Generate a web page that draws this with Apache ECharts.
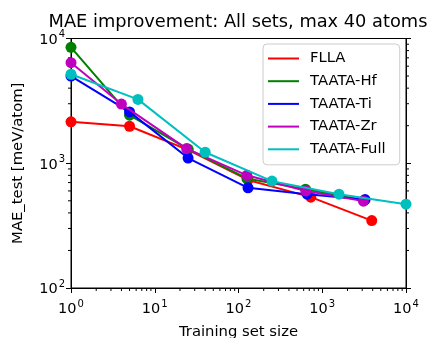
<!DOCTYPE html>
<html>
<head>
<meta charset="utf-8">
<script src="https://cdn.jsdelivr.net/npm/echarts@6/dist/echarts.min.js"></script>
<style>
  html, body { margin: 0; padding: 0; background: #fff; }
  #chart { width: 430px; height: 338px; }
</style>
</head>
<body>
<div id="chart"></div>
<script>
// Training set size vs. test MAE (meV/atom), one list of [size, mae] per model
const seriesNames = ['FLLA', 'TAATA-Hf', 'TAATA-Ti', 'TAATA-Zr', 'TAATA-Full'];
const flla      = [[1, 2150], [5, 1980], [25, 1280], [130, 735], [730, 535], [3900, 347]];
const taataHf   = [[1, 8500], [5, 2430], [25, 1300], [126, 755], [631, 620], [3162, 505]];
const taataTi   = [[1, 5000], [5, 2580], [25, 1100], [130, 635], [660, 565], [3250, 512]];
const taataZr   = [[1, 6400], [4, 2980], [24, 1310], [126, 800], [640, 600], [3100, 497]];
const taataFull = [[1, 5170], [6.3, 3250], [40, 1225], [251, 719], [1585, 565], [10000, 470]];
const seriesColors = ['#ff0000', '#008000', '#0000ff', '#bf00bf', '#00bfbf'];

// Axis ranges and decade ticks
const xRange = [1, 10000];
const yRange = [100, 10000];
const xDecades = [1, 10, 100, 1000];
const yDecades = [100, 1000];
const minorMultipliers = [2, 3, 4, 5, 6, 7, 8, 9];
const xMinorTicks = xDecades.flatMap(d => minorMultipliers.map(m => m * d));
const yMinorTicks = yDecades.flatMap(d => minorMultipliers.map(m => m * d));

const FONT = 'DejaVu Sans';
const TXT = '#000';

function powerLabel(v) {
  const e = Math.round(Math.log10(v));
  return '{b|10}{s|' + e + '}';
}
const labelRich = {
  b: { fontFamily: FONT, fontSize: 14.5, color: TXT, verticalAlign: 'bottom', lineHeight: 18 },
  s: { fontFamily: FONT, fontSize: 10, color: TXT, verticalAlign: 'top', lineHeight: 18, padding: [0, 0, 0, 1] }
};

const allData = [flla, taataHf, taataTi, taataZr, taataFull];

const lineSeries = allData.map((d, i) => ({
  name: seriesNames[i],
  type: 'line',
  data: d,
  symbol: 'circle',
  symbolSize: 11,
  color: seriesColors[i],
  lineStyle: { width: 2, color: seriesColors[i] },
  itemStyle: { color: seriesColors[i] },
  emphasis: { disabled: true },
  animation: false,
  z: 3 + i
}));

// Minor ticks on the log axes (2..9 within each decade)
const minorX = {
  type: 'custom',
  data: xMinorTicks.map(v => [v, yRange[0]]),
  clip: false,
  silent: true,
  animation: false,
  renderItem: function (params, api) {
    const p = api.coord([api.value(0), yRange[0]]);
    return { type: 'line', shape: { x1: p[0], y1: p[1], x2: p[0], y2: p[1] + 3 },
             style: { stroke: '#000', lineWidth: 1 } };
  }
};
const minorY = {
  type: 'custom',
  data: yMinorTicks.map(v => [xRange[0], v]),
  clip: false,
  silent: true,
  animation: false,
  renderItem: function (params, api) {
    const l = api.coord([xRange[0], api.value(1)]);
    const r = api.coord([xRange[1], api.value(1)]);
    return { type: 'group', children: [
      { type: 'line', shape: { x1: l[0] - 3, y1: l[1], x2: l[0], y2: l[1] }, style: { stroke: '#000', lineWidth: 1 } },
      { type: 'line', shape: { x1: r[0], y1: r[1], x2: r[0] + 3, y2: r[1] }, style: { stroke: '#000', lineWidth: 1 } }
    ]};
  }
};

const axisLine = { show: true, lineStyle: { color: '#000', width: 1 } };
const majorTick = { show: true, inside: false, length: 5, lineStyle: { color: '#000', width: 1 } };

const option = {
  backgroundColor: '#fff',
  animation: false,
  title: {
    text: 'MAE improvement: All sets, max 40 atoms',
    left: 233,
    top: 8,
    textAlign: 'center',
    textStyle: { fontFamily: FONT, fontSize: 17.8, fontWeight: 'normal', color: TXT }
  },
  grid: {
    left: 71, right: 24, top: 38.5, bottom: 50,
    containLabel: false,
    outerBoundsMode: 'none',
    show: true, borderColor: '#000', borderWidth: 1, backgroundColor: 'transparent'
  },
  legend: {
    data: seriesNames,
    orient: 'vertical',
    left: 263,
    top: 44,
    icon: 'rect',
    itemWidth: 31,
    itemHeight: 2,
    itemGap: 5.7,
    padding: [6, 14, 7, 5],
    borderColor: '#cccccc',
    borderWidth: 1,
    borderRadius: 4,
    backgroundColor: 'rgba(255,255,255,0.8)',
    textStyle: { fontFamily: FONT, fontSize: 14.8, color: TXT, padding: [0, 0, 0, 6], lineHeight: 17 },
    selectedMode: false
  },
  xAxis: {
    type: 'log',
    logBase: 10,
    min: xRange[0],
    max: xRange[1],
    name: 'Training set size',
    nameLocation: 'middle',
    nameGap: 37,
    nameTextStyle: { fontFamily: FONT, fontSize: 14.8, color: TXT },
    axisLine: axisLine,
    axisTick: majorTick,
    splitLine: { show: false },
    axisLabel: { formatter: powerLabel, rich: labelRich, margin: 11, showMinLabel: true, showMaxLabel: true }
  },
  yAxis: [{
    type: 'log',
    logBase: 10,
    min: yRange[0],
    max: yRange[1],
    position: 'left',
    name: 'MAE_test [meV/atom]',
    nameLocation: 'middle',
    nameRotate: 90,
    nameGap: 45,
    nameTextStyle: { fontFamily: FONT, fontSize: 14.8, color: TXT },
    axisLine: axisLine,
    axisTick: majorTick,
    splitLine: { show: false },
    axisLabel: { formatter: powerLabel, rich: labelRich, margin: 6, showMinLabel: true, showMaxLabel: true }
  }, {
    type: 'log',
    logBase: 10,
    min: yRange[0],
    max: yRange[1],
    position: 'right',
    axisLine: axisLine,
    axisTick: majorTick,
    splitLine: { show: false },
    axisLabel: { show: false }
  }],
  series: lineSeries.concat([minorX, minorY])
};

const chart = echarts.init(document.getElementById('chart'), null, { renderer: 'canvas' });
chart.setOption(option);
</script>
</body>
</html>
